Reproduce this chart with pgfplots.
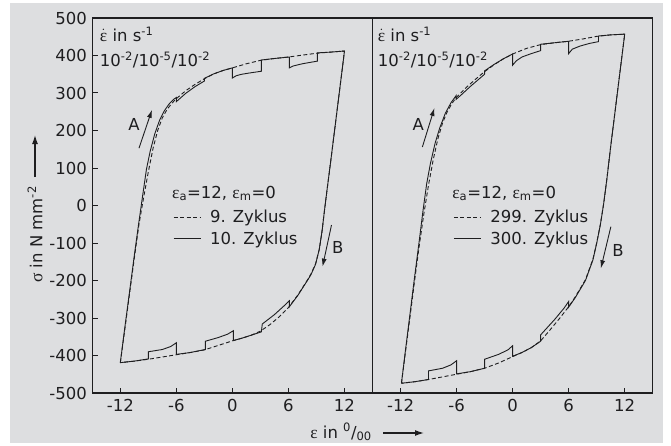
\documentclass[border=0pt]{standalone}
\usepackage{pgfplots}
\pgfplotsset{compat=1.18}
\usepackage{fontspec}
\setmainfont{DejaVu Sans}
\newfontfamily\grk{Liberation Serif}
\usetikzlibrary{arrows.meta}
\definecolor{bg}{RGB}{221,222,224}
\definecolor{ink}{RGB}{30,30,32}
\newcommand\lf{\fontsize{16.5}{19}\selectfont}
\newcommand\eps{{\grk\fontsize{17.5}{19}\selectfont ε}}
\newcommand\epsdot{$\dot{\mbox{\grk\fontsize{17.5}{19}\selectfont ε}}$}
\tikzset{txt/.style={font=\lf, text=ink, inner sep=0pt}}

\pgfplotsset{panel/.style={
  scale only axis, width=280.2pt, height=375pt,
  xmin=-15, xmax=15, ymin=-500, ymax=500,
  axis line style={line width=1.5pt, ink},
  every tick/.style={line width=1pt, ink},
  major tick length=5.5pt,
  tick align=inside,
  xtick={-12,-6,0,6,12}, xticklabels={-12,-6,0,6,12},
  xtick pos=bottom,
  xticklabel style={font=\lf, text=ink, yshift=-3pt},
  yticklabel style={font=\lf, text=ink, xshift=-2pt},
  legend style={draw=none, fill=none, font=\lf, text=ink, row sep=7.5pt,
     column sep=9pt, inner sep=0pt, nodes={inner sep=0pt},
     at={(axis cs:-6.36,-12)}, anchor=north west},
  legend cell align=left,
},
c9/.style={ink, line width=0.9pt, dash pattern=on 4pt off 2.5pt,
  legend image code/.code={\draw[##1] (0pt,0pt) -- (27pt,0pt);}},
c10/.style={ink, line width=0.9pt,
  legend image code/.code={\draw[##1] (0pt,0pt) -- (27pt,0pt);}},
}

\begin{document}
\begin{tikzpicture}
\path[use as bounding box, fill=white] (-92.3pt,-52pt) rectangle (578.7pt,393pt);
\fill[bg] (-81.8pt,-50pt) rectangle (570.7pt,390.3pt);

% y label and arrow
\node[rotate=90, txt] at (-57.3pt,158.5pt) {{\grk\fontsize{17.5}{19}\selectfont σ} in N mm\textsuperscript{-2}};
\draw[ink, line width=1.3pt, -{Latex[length=9pt,width=6pt]}] (-57.3pt,216pt) -- (-57.3pt,258pt);
% x label and arrow
\node[anchor=east, txt] at (279.7pt,-39pt) {\eps{} in \textsuperscript{0}/\textsubscript{00}};
\draw[ink, line width=1.3pt, -{Latex[length=9pt,width=6pt]}] (290.7pt,-40pt) -- (331.7pt,-40pt);

\begin{axis}[panel, at={(0pt,0pt)}, anchor=south west,
  ytick={-500,-400,-300,-200,-100,0,100,200,300,400,500},
  yticklabels={-500,-400,-300,-200,-100,0,100,200,300,400,500},
  ytick pos=left]
\addplot[c9] coordinates {
(-12,-419) (-11.5,-327) (-11,-233) (-10.5,-140) (-10,-50) (-9.5,22) (-9,90) (-8.5,152) (-8,200) (-7.5,234) (-7,256) (-6.5,272) (-6,285) (-5,306) (-4,323) (-3,338) (-2,351) (-1,360) (0,367) (1.5,378) (3,387) (4.5,392) (6,396) (7.5,401) (9,406) (10.5,409) (12,412)
(11.5,312) (11,212) (10.5,113) (10.1,35) (9.85,-15) (9.6,-68) (9.3,-117) (8.9,-156) (8.4,-183) (8,-200) (7,-239) (6,-272) (5,-297) (4,-318) (3,-335) (2,-346) (1,-354) (0,-361) (-1.5,-373) (-3,-385) (-4.5,-392) (-6,-398) (-7.5,-404) (-9,-410) (-10.5,-415) (-12,-419)
};
\addplot[c10] coordinates {
(-12,-419) (-11.5,-322) (-11,-228) (-10.5,-133) (-10,-42) (-9.6,28) (-9.2,97) (-8.8,145) (-8.3,192) (-7.8,227) (-7.3,252) (-6.8,270) (-6.3,283) (-6,288) (-6,277) (-5.5,288) (-5,299) (-4,317) (-3,332) (-3,339) (-2,351) (-1,360) (0,367) (0,340) (0.4,346) (1,350) (2,354) (3.1,358) (3.1,388) (4.5,392) (6.1,396) (6.1,367) (6.5,372) (7.5,378) (9.1,385) (9.1,407) (10.5,409) (12,412)
(11.5,312) (11,212) (10.5,113) (10.1,35) (9.85,-15) (9.6,-68) (9.3,-117) (8.9,-157) (8.4,-185) (8,-201) (7,-240) (6.1,-270) (6.1,-254) (5.6,-266) (4.5,-291) (3.2,-316) (3.1,-337) (2,-346) (1,-354) (0.1,-360) (0.1,-334) (-0.5,-343) (-1.5,-352) (-2.9,-362) (-2.9,-384) (-4.5,-392) (-6,-397) (-6,-366) (-6.6,-376) (-7.5,-384) (-9,-390) (-9,-409) (-10.5,-415) (-12,-419)
};
\legend{9. Zyklus, 10. Zyklus}
\node[anchor=base west, txt] at (axis cs:-14.2,437) {\epsdot{} in s\textsuperscript{-1}};
\node[anchor=base west, txt] at (axis cs:-14.2,371) {10\textsuperscript{-2}/10\textsuperscript{-5}/10\textsuperscript{-2}};
\node[anchor=base west, txt] at (axis cs:-6.47,20) {\eps\textsubscript{a}=12, \eps\textsubscript{m}=0};
\node[txt] at (axis cs:-10.53,215) {A};
\draw[ink, line width=0.9pt, -{Latex[length=8pt,width=5pt]}] (axis cs:-10.0,153) -- (axis cs:-8.61,255);
\node[txt] at (axis cs:11.28,-111) {B};
\draw[ink, line width=0.9pt, -{Latex[length=8pt,width=5pt]}] (axis cs:10.61,-52) -- (axis cs:9.65,-163);
\end{axis}

\begin{axis}[panel, at={(280.2pt,0pt)}, anchor=south west, ytick=\empty]
\addplot[c9] coordinates {
(-11.9,-474) (-11.5,-396) (-11,-300) (-10.5,-202) (-10,-108) (-9.5,-22) (-9,55) (-8.5,122) (-8,178) (-7.5,220) (-7,250) (-6.5,272) (-6,289) (-5,314) (-4,336) (-3,357) (-2,375) (-1,391) (0,404) (1.5,419) (3,429) (4.5,434) (6,438) (7.5,444) (9,451) (10.5,455) (12,457)
(11.5,357) (11,257) (10.5,157) (10.1,72) (9.75,5) (9.4,-50) (9,-100) (8.6,-143) (7.8,-198) (6.7,-244) (6,-270) (5,-302) (4,-332) (3,-361) (2,-379) (1,-392) (0,-403) (-1.5,-420) (-3,-434) (-4.5,-443) (-6,-450) (-7.5,-457) (-9,-464) (-10.5,-470) (-11.9,-474)
};
\addplot[c10] coordinates {
(-11.9,-474) (-11.5,-392) (-11,-292) (-10.5,-192) (-10,-95) (-9.6,-15) (-9.2,58) (-8.8,112) (-8.3,166) (-7.8,207) (-7.2,246) (-6.6,274) (-6.05,293) (-6.05,283) (-5.5,295) (-4.5,318) (-3,350) (-3,359) (-2,376) (-1,391) (0,404) (0,374) (0.4,386) (1,396) (2,405) (3,413) (3,430) (4.5,434) (6,438) (6,405) (6.4,417) (7.2,425) (8.2,432) (9.2,437) (9.2,452) (10.5,455) (12,457)
(11.5,357) (11,257) (10.5,157) (10.1,72) (9.75,5) (9.4,-51) (9,-101) (8.6,-145) (7.8,-200) (6.7,-246) (6,-271) (6,-256) (5.5,-274) (4.5,-304) (3,-345) (3,-362) (2,-379) (1,-392) (0,-402) (0,-374) (-0.5,-385) (-1.5,-397) (-3,-410) (-3,-434) (-4.5,-443) (-6,-449) (-6,-414) (-6.6,-425) (-7.5,-434) (-9,-441) (-9,-464) (-10.5,-470) (-11.9,-474)
};
\legend{299. Zyklus, 300. Zyklus}
\node[anchor=base west, txt] at (axis cs:-14.45,437) {\epsdot{} in s\textsuperscript{-1}};
\node[anchor=base west, txt] at (axis cs:-14.45,371) {10\textsuperscript{-2}/10\textsuperscript{-5}/10\textsuperscript{-2}};
\node[anchor=base west, txt] at (axis cs:-6.47,20) {\eps\textsubscript{a}=12, \eps\textsubscript{m}=0};
\node[txt] at (axis cs:-10.09,215) {A};
\draw[ink, line width=0.9pt, -{Latex[length=8pt,width=5pt]}] (axis cs:-9.66,156) -- (axis cs:-8.37,260);
\node[txt] at (axis cs:11.3,-121) {B};
\draw[ink, line width=0.9pt, -{Latex[length=8pt,width=5pt]}] (axis cs:10.52,-56.5) -- (axis cs:9.45,-167.5);
\end{axis}
\end{tikzpicture}
\end{document}
